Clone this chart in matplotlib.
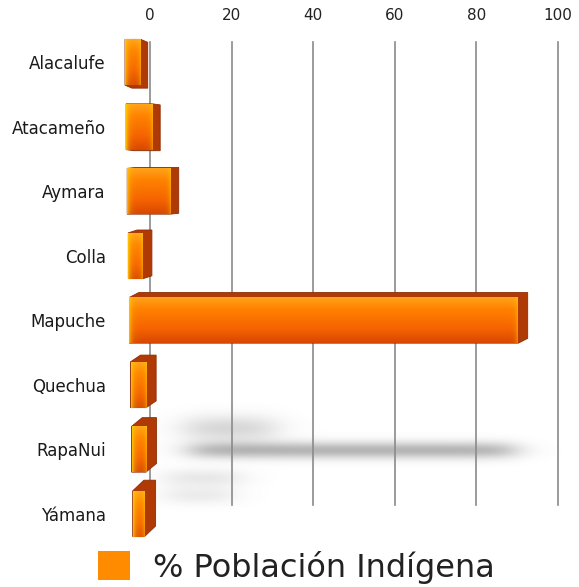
import numpy as np
import matplotlib
matplotlib.use("Agg")
import matplotlib.pyplot as plt
from matplotlib.patches import Polygon, Rectangle, Patch
from matplotlib.colors import to_rgb

# ---------------- data ----------------
categories = ["Alacalufe", "Atacameño", "Aymara", "Colla", "Mapuche",
              "Quechua", "RapaNui", "Yámana"]
values = [0.4, 3.0, 7.0, 0.5, 87.3, 0.9, 0.7, 0.2]
xticks = [0, 20, 40, 60, 80, 100]
legend_label = "% Población Indígena"

# ---------------- figure / axes ----------------
W, H = 579, 587
fig = plt.figure(figsize=(W / 100, H / 100), dpi=100)
ax_l, ax_r, ax_t, ax_b = 110, 570, 30, 546
ax = fig.add_axes([ax_l / W, (H - ax_b) / H, (ax_r - ax_l) / W, (ax_b - ax_t) / H])

x0_px, x100_px = 150, 558
pxu = (x100_px - x0_px) / 100.0          # pixels per data unit (x)
xmin = -(x0_px - ax_l) / pxu
xmax = (ax_r - x0_px) / pxu
n = len(categories)
ylo, yhi = n - 0.5, -0.5
pyu = (ax_b - ax_t) / (ylo - yhi)        # pixels per data unit (y)

# grid lines
for t in xticks:
    ax.axvline(t, ymin=(ax_b - 505) / (ax_b - ax_t), ymax=(ax_b - 42) / (ax_b - ax_t),
               color="#8a8a8a", lw=1.2, zorder=1)

# ---------------- soft floor reflections (decorative blur) ----------------
gx = np.linspace(xmin, xmax, 460)[None, :]
gy = np.linspace(yhi, ylo, 516)[:, None]
def blur_streak(x1, x2, yc, sx, sy, a):
    fx = 0.5 * (np.tanh((gx - x1) / sx) - np.tanh((gx - x2) / sx))
    fy = np.exp(-((gy - yc) / sy) ** 2)
    return a * fx * fy
mx = values[categories.index("Mapuche")]
alpha = (blur_streak(10, mx + 2, 6.02, 5.0, 0.13, 0.50)
         + blur_streak(9, 30, 5.68, 5.5, 0.20, 0.28)
         + blur_streak(4, 22, 6.45, 5.0, 0.14, 0.16)
         + blur_streak(4, 20, 6.72, 5.0, 0.14, 0.14))
alpha = np.clip(alpha, 0, 1)
shadow = np.zeros(alpha.shape + (4,))
shadow[..., :3] = 0.42
shadow[..., 3] = alpha
ax.imshow(shadow, extent=[xmin, xmax, ylo, yhi], aspect="auto",
          interpolation="bilinear", zorder=0.5)

# ---------------- 3D-looking bars ----------------
def hull(pts):
    pts = sorted(set(map(tuple, pts)))
    def cross(o, a, b):
        return (a[0] - o[0]) * (b[1] - o[1]) - (a[1] - o[1]) * (b[0] - o[0])
    lower, upper = [], []
    for p in pts:
        while len(lower) >= 2 and cross(lower[-2], lower[-1], p) <= 0:
            lower.pop()
        lower.append(p)
    for p in reversed(pts):
        while len(upper) >= 2 and cross(upper[-2], upper[-1], p) <= 0:
            upper.pop()
        upper.append(p)
    return lower[:-1] + upper[:-1]

k_px = 4.315              # pixels per percent on bar face (perspective)
bar_h = 0.71
top_c = np.array(to_rgb("#ffa21c"))
mid_c = np.array(to_rgb("#ff8200"))
low_c = np.array(to_rgb("#f56200"))
bot_c = np.array(to_rgb("#d84800"))
yel = np.array(to_rgb("#ffd000"))

for i, v in enumerate(values):
    base_w_px = 14.0 - 0.45 * i
    xl = (125 + 1.1 * i - x0_px) / pxu
    w_px = base_w_px + k_px * v
    xr = xl + w_px / pxu
    yt, yb = i - bar_h / 2, i + bar_h / 2
    dx = (7 + 0.6 * i) / pxu
    dy = (3 - 1.95 * i) / pyu
    front = [(xl, yt), (xr, yt), (xr, yb), (xl, yb)]
    back = [(x + dx, y + dy) for x, y in front]
    poly = Polygon(hull(front + back), closed=True, facecolor="#b03a06",
                   edgecolor="#8e2c02", lw=0.6, zorder=3)
    ax.add_patch(poly)

    # gradient front face
    nr, nc = 60, max(int(w_px), 2)
    t = np.linspace(0, 1, nr)
    stops = np.array([0.0, 0.25, 0.7, 1.0])
    cols = np.array([top_c, mid_c, low_c, bot_c])
    grad = np.stack([np.interp(t, stops, cols[:, c]) for c in range(3)], axis=1)
    img = np.repeat(grad[:, None, :], nc, axis=1)
    xs = np.arange(nc)[None, :, None]
    wl = 0.75 * np.exp(-xs / 2.5)
    wr = 0.45 * np.exp(-(nc - 1 - xs) / 2.0)
    img = img * (1 - wl) + yel * wl
    img = img * (1 - wr) + yel * wr
    im = ax.imshow(img, extent=[xl, xr, yb, yt], aspect="auto",
                   interpolation="bilinear", zorder=4)
    im.set_clip_path(Rectangle((xl, yt), xr - xl, yb - yt, transform=ax.transData))

# ---------------- axes styling ----------------
ax.set_xlim(xmin, xmax)
ax.set_ylim(ylo, yhi)
ax.xaxis.tick_top()
ax.set_xticks(xticks)
ax.set_xticklabels([str(t) for t in xticks], fontsize=11, color="#222222")
ax.tick_params(axis="x", length=0, pad=5)
ax.set_yticks(range(n))
ax.set_yticklabels(categories, fontsize=12, color="#1a1a1a")
ax.tick_params(axis="y", length=0, pad=3)
for s in ax.spines.values():
    s.set_visible(False)

fig.legend(handles=[Patch(facecolor="#ff8c00", edgecolor="none")], labels=[legend_label],
           loc="center", bbox_to_anchor=(296 / W, 1 - 567 / H), frameon=False,
           fontsize=23, handlelength=1.0, handleheight=1.0, handletextpad=0.72,
           labelcolor="#222222")

fig.savefig("out.png", dpi=100)
